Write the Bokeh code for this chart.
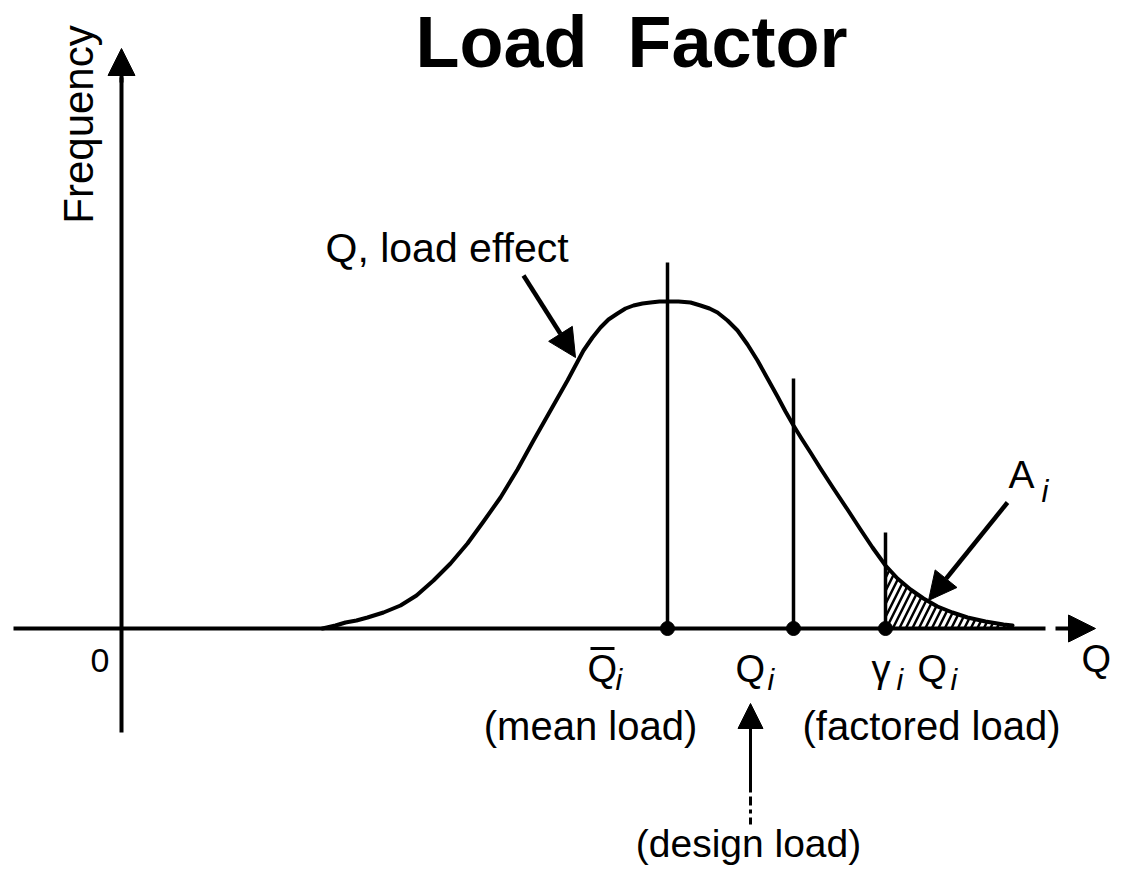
import math
from bokeh.plotting import figure
from bokeh.models import Range1d, Arrow, NormalHead
from bokeh.core.properties import value
from bokeh.embed import file_html
from bokeh.resources import INLINE

# ---------------- data (Q units, frequency units) ----------------
curve_q = [201, 214, 224, 235, 246, 262, 279, 295, 312, 329,
           346, 362, 379, 396, 412, 429, 446, 454, 462, 471,
           479, 487, 496, 504, 512, 521, 529, 538, 546, 557,
           569, 579, 588, 596, 606, 616, 626, 636, 646, 656,
           664, 672, 680, 689, 699, 712, 726, 739, 751, 764,
           776, 789, 802, 816, 831, 846, 864, 882, 891]
curve_f = [0, 3, 6, 8, 11, 16, 23, 33, 48, 65,
           85, 107, 131, 159, 188, 218, 248, 263, 278, 291,
           301, 309, 315, 320, 323, 325, 326, 327, 327, 327,
           326, 323, 320, 316, 308, 298, 284, 268, 250, 232,
           217, 203, 190, 176, 160, 140, 119, 99, 81, 63,
           50, 39, 30, 22, 16, 11, 7, 4, 3]

marker_q = [546, 672, 764]          # mean load, design load, factored load
marker_top = [366, 250, 96]         # heights of the vertical markers

x_axis_span = [-108, 924]           # horizontal axis extent
x_arrow = [934, 974]                # arrow shaft end / tip
y_axis_span = [-104, 551]           # vertical axis extent
y_arrow = [551, 580]

title_text = "Load\u00a0\u00a0Factor"
axis_label_y = "Frequency"
axis_label_x = "Q"
origin_label = "0"

curve_label = "Q, load effect"
curve_arrow = [402, 353, 454, 271]      # x0, y0, x1, y1
area_label = "A"
area_arrow = [886, 126, 807, 28]

sym_main = ["Q", "Q", "\u03b3", "Q"]
sym_main_x = [466, 614, 750, 796]
sym_sub_x = [494, 646, 775, 829]
desc_text = ["(mean load)", "(factored load)"]
desc_x = [469, 810]
design_text = "(design load)"
design_x = 629
design_arrow_y = [-164, -75]
design_dash_y = [-168, -196]

FONT = value("Liberation Sans")


def bl(y, fs):
    """shift so that the rendered alphabetic baseline lands on y (svg text sits ~0.36em low)"""
    return y + 0.36 * fs


# ---------------- figure ----------------
p = figure(width=1112, height=867, x_range=Range1d(-121, 991), y_range=Range1d(-239, 628),
           output_backend="svg", toolbar_location=None,
           x_axis_location=None, y_axis_location=None, min_border=0)
p.outline_line_color = None
p.grid.grid_line_color = None
p.background_fill_color = "white"
p.border_fill_color = "white"

# hatched tail area (factored load and beyond)
tail_q = [q for q in curve_q if q >= marker_q[2]]
tail_f = [f for q, f in zip(curve_q, curve_f) if q >= marker_q[2]]
p.varea(x=tail_q, y1=[0] * len(tail_q), y2=tail_f, fill_alpha=0,
        hatch_pattern="/", hatch_color="black", hatch_scale=13, hatch_weight=2.5)

# axes
p.line(x=x_axis_span, y=[0, 0], line_color="black", line_width=4)
p.line(x=[0, 0], y=y_axis_span, line_color="black", line_width=4)
p.add_layout(Arrow(x_start=x_arrow[0], y_start=0, x_end=x_arrow[1], y_end=0,
                   line_width=4, line_color="black",
                   end=NormalHead(size=27, fill_color="black", line_color="black")))
p.add_layout(Arrow(x_start=0, y_start=y_arrow[0] - 5, x_end=0, y_end=y_arrow[1],
                   line_width=4, line_color="black",
                   end=NormalHead(size=27, fill_color="black", line_color="black")))

# distribution curve
p.line(x=curve_q, y=curve_f, line_color="black", line_width=4, line_join="round", line_cap="round")

# vertical markers and dots
p.segment(x0=marker_q, y0=[0] * 3, x1=marker_q, y1=marker_top, line_color="black", line_width=3.5)
p.scatter(x=marker_q, y=[0] * 3, size=14, color="black")

# arrows with labels
p.add_layout(Arrow(x_start=curve_arrow[0], y_start=curve_arrow[1], x_end=curve_arrow[2], y_end=curve_arrow[3],
                   line_width=4.5, line_color="black",
                   end=NormalHead(size=28, fill_color="black", line_color="black")))
p.add_layout(Arrow(x_start=area_arrow[0], y_start=area_arrow[1], x_end=area_arrow[2], y_end=area_arrow[3],
                   line_width=4.5, line_color="black",
                   end=NormalHead(size=28, fill_color="black", line_color="black")))
p.add_layout(Arrow(x_start=design_x, y_start=design_arrow_y[0], x_end=design_x, y_end=design_arrow_y[1],
                   line_width=3, line_color="black",
                   end=NormalHead(size=25, fill_color="black", line_color="black")))
p.line(x=[design_x, design_x], y=design_dash_y, line_color="black", line_width=3, line_dash="9 4 4 4")

# ---------------- texts ----------------
p.text(x=[510], y=[bl(561, 72)], text=[title_text], text_font=FONT, text_font_size="72px",
       text_font_style="bold", text_align="center", text_baseline="alphabetic", text_color="black")
p.text(x=[-28 - 0.36 * 42], y=[504], text=[axis_label_y], angle=math.pi / 2, text_font=FONT,
       text_font_size="42px", text_align="center", text_baseline="alphabetic", text_color="black")
p.text(x=[960], y=[bl(-44, 38)], text=[axis_label_x], text_font=FONT, text_font_size="38px",
       text_align="left", text_baseline="alphabetic", text_color="black")
p.text(x=[-31], y=[bl(-44, 34)], text=[origin_label], text_font=FONT, text_font_size="34px",
       text_align="left", text_baseline="alphabetic", text_color="black")
p.text(x=[204], y=[bl(366, 41)], text=[curve_label], text_font=FONT, text_font_size="41px",
       text_align="left", text_baseline="alphabetic", text_color="black")
p.text(x=[887], y=[bl(140, 39)], text=[area_label], text_font=FONT, text_font_size="39px",
       text_align="left", text_baseline="alphabetic", text_color="black")
p.text(x=[920], y=[bl(126, 31)], text=["i"], text_font=FONT, text_font_size="31px", text_font_style="italic",
       text_align="left", text_baseline="alphabetic", text_color="black")

p.text(x=sym_main_x, y=[bl(-54, 38)] * 4, text=sym_main, text_font=FONT, text_font_size="38px",
       text_align="left", text_baseline="alphabetic", text_color="black")
p.text(x=sym_sub_x, y=[bl(-62, 30)] * 4, text=["i"] * 4, text_font=FONT, text_font_size="30px",
       text_font_style="italic", text_align="left", text_baseline="alphabetic", text_color="black")
# overbar of the mean symbol
p.line(x=[sym_main_x[0] + 3, sym_main_x[0] + 27], y=[-20, -20], line_color="black", line_width=3)

p.text(x=desc_x, y=[bl(-112, 40)] * 2, text=desc_text, text_font=FONT, text_font_size="40px",
       text_align="center", text_baseline="alphabetic", text_color="black")
p.text(x=[design_x - 2], y=[bl(-229, 39)], text=[design_text], text_font=FONT, text_font_size="39px",
       text_align="center", text_baseline="alphabetic", text_color="black")

open("out.html", "w").write(file_html(p, INLINE))
